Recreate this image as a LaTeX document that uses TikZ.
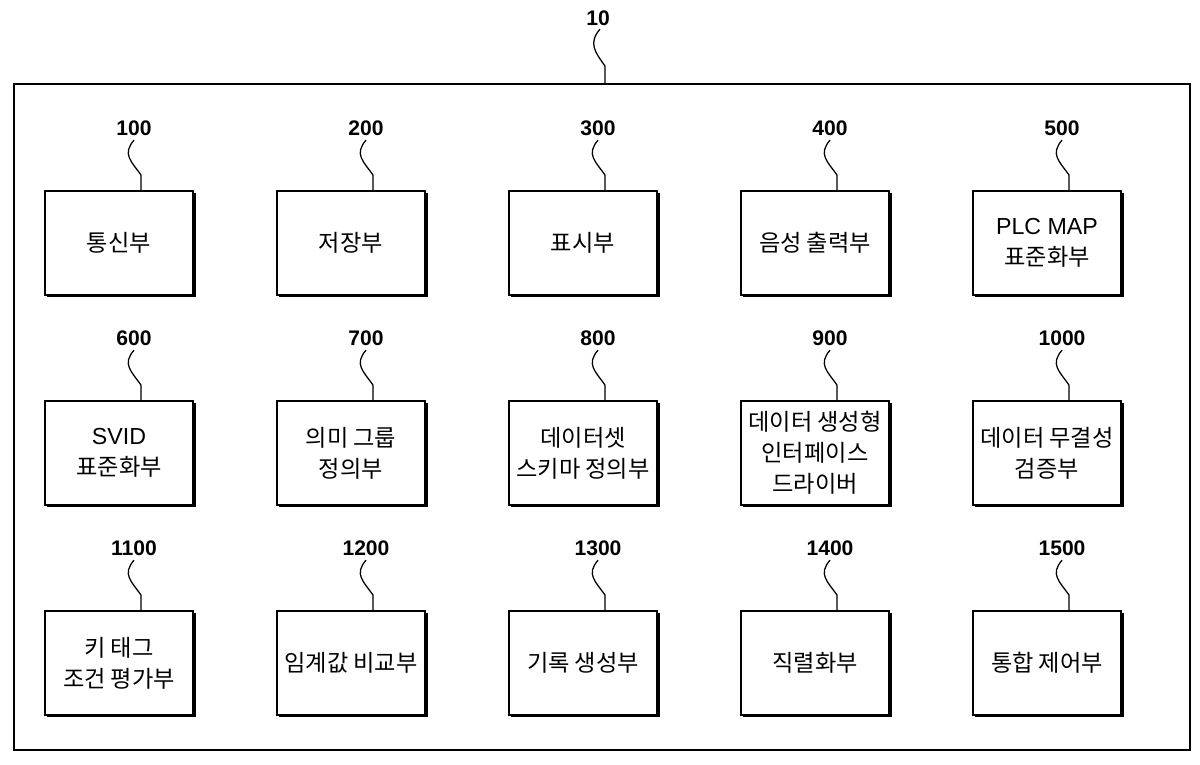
\documentclass[tikz,border=0pt]{standalone}
\usepackage{fontspec}
\usetikzlibrary{calc}
\setmainfont{Liberation Sans}
\newfontfamily\kr{Noto Sans CJK KR}
\begin{document}
\begin{tikzpicture}[x=0.025cm,y=-0.025cm,
  box/.style={draw,line width=1.3pt,minimum width=148*0.025cm,minimum height=104*0.025cm,align=center,inner sep=0pt,font=\kr\fontsize{16.5}{22}\selectfont,fill=white},
  lbl/.style={font=\fontsize{15}{18}\selectfont\bfseries,inner sep=1pt},
  sq/.style={line width=0.9pt}]
\useasboundingbox (0,0) rectangle (1200,764);
\node[draw,line width=1.3pt,minimum width=1176*0.025cm,minimum height=666*0.025cm,inner sep=0pt] (outer) at (602,417) {};
\node[lbl] (l10) at (598,18) {10};
\coordinate (t10) at (605,84);
\draw[sq] (l10.south) ++(2,2) .. controls +(-12,14) and +(-10,-14) .. ($(t10)+(0,-18)$) -- (t10);
\def\mk#1#2#3#4#5{%
  \fill ($(#2,#3)+(-72,54)$) rectangle ($(#2,#3)+(77,50)$);
  \fill ($(#2,#3)+(73,-50)$) rectangle ($(#2,#3)+(77,54)$);
  \node[box] (b#1) at (#2,#3) {#5};
  \node[lbl] (l#1) at ($(#2,#3)+(15,-115)$) {#4};
  \coordinate (t#1) at ($(#2,#3)+(22,-52)$);
  \draw[sq] (l#1.south) ++(0,3) .. controls +(-12,14) and +(-10,-14) .. ($(t#1)+(0,-16)$) -- (t#1);
}
\mk{a}{119}{243}{100}{통신부}
\mk{b}{351}{243}{200}{저장부}
\mk{c}{583}{243}{300}{표시부}
\mk{d}{815}{243}{400}{음성 출력부}
\mk{e}{1047}{243}{500}{{\fontspec{Liberation Sans}PLC MAP}\\표준화부}
\mk{f}{119}{453}{600}{{\fontspec{Liberation Sans}SVID}\\표준화부}
\mk{g}{351}{453}{700}{의미 그룹\\정의부}
\mk{h}{583}{453}{800}{데이터셋\\스키마 정의부}
\mk{i}{815}{453}{900}{데이터 생성형\\인터페이스\\드라이버}
\mk{j}{1047}{453}{1000}{데이터 무결성\\검증부}
\mk{k}{119}{663}{1100}{키 태그\\조건 평가부}
\mk{l}{351}{663}{1200}{임계값 비교부}
\mk{m}{583}{663}{1300}{기록 생성부}
\mk{n}{815}{663}{1400}{직렬화부}
\mk{o}{1047}{663}{1500}{통합 제어부}
\end{tikzpicture}
\end{document}
